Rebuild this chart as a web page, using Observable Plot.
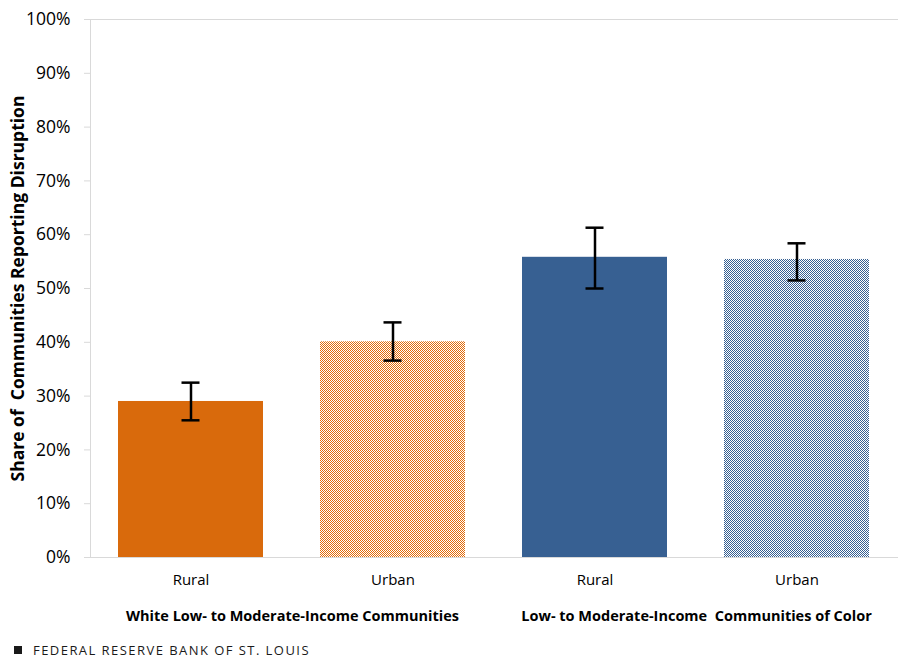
<!DOCTYPE html>
<html>
<head>
<meta charset="utf-8">
<script src="https://cdn.jsdelivr.net/npm/d3@7"></script>
<script src="https://cdn.jsdelivr.net/npm/@observablehq/plot@0.6"></script>
<style>
  html, body { margin: 0; padding: 0; background: #fff; }
  body { width: 909px; height: 660px; overflow: hidden; font-family: "Open Sans", sans-serif; }
  #chart svg { display: block; }
  g[aria-label="y-axis label"] text { font-weight: bold; font-size: 17.5px; }
  #footer { position: relative; height: 27px; margin-top: 3px; display: flex; align-items: center; padding-left: 14px; font-size: 13px; letter-spacing: 1.45px; color: #1a1a1a; font-family: "Open Sans", sans-serif; }
  #footer .sq { width: 8px; height: 8px; background: #1a1a1a; margin-right: 11px; }
</style>
</head>
<body>
<svg width="0" height="0" style="position:absolute">
  <defs>
    <pattern id="chkO" width="2" height="2" patternUnits="userSpaceOnUse">
      <rect width="2" height="2" fill="#ffffff"/>
      <rect x="0" y="0" width="1" height="1" fill="#E46C0A"/>
      <rect x="1" y="1" width="1" height="1" fill="#E46C0A"/>
    </pattern>
    <pattern id="chkB" width="2" height="2" patternUnits="userSpaceOnUse">
      <rect width="2" height="2" fill="#ffffff"/>
      <rect x="0" y="0" width="1" height="1" fill="#376092"/>
      <rect x="1" y="1" width="1" height="1" fill="#376092"/>
    </pattern>
  </defs>
</svg>
<div id="chart"></div>
<div id="footer"><div class="sq"></div><span>FEDERAL RESERVE BANK OF ST. LOUIS</span></div>
<script>
const groups = ["White Low- to Moderate-Income Communities", "Low- to Moderate-Income\u00a0 Communities of Color"];
const barGroups = [groups[0], groups[0], groups[1], groups[1]];
const areas = ["Rural", "Urban", "Rural", "Urban"];
const values = [0.290, 0.401, 0.558, 0.554];
const lower = [0.255, 0.366, 0.500, 0.515];
const upper = [0.325, 0.437, 0.613, 0.584];
const yTicks = [0, 0.1, 0.2, 0.3, 0.4, 0.5, 0.6, 0.7, 0.8, 0.9, 1.0];
const yTitle = "Share of\u00a0 Communities Reporting Disruption";

const data = values.map((v, i) => ({
  group: barGroups[i], area: areas[i], value: v, lo: lower[i], hi: upper[i],
  key: barGroups[i] + "|" + areas[i]
}));

const keys = data.map(d => d.key);
const fillRange = ["#D96A0C", "url(#chkO)", "#376092", "url(#chkB)"];

const grid = "#d9d9d9";

const chart = Plot.plot({
  width: 909,
  height: 633,
  marginTop: 19,
  marginBottom: 76,
  marginLeft: 90,
  marginRight: 11,
  style: { fontFamily: "Open Sans, sans-serif", color: "#000", background: "#fff" },
  fx: { domain: groups, padding: 0, label: null, axis: null },
  x: { domain: ["Rural", "Urban"], paddingInner: 0.282, paddingOuter: 0.141, label: null, axis: null },
  y: { domain: [0, 1], label: null, axis: null },
  color: { type: "ordinal", domain: keys, range: fillRange },
  marks: [
    Plot.frame({ anchor: "left", stroke: grid, facetAnchor: "left" }),
    Plot.ruleY([0, 1], { stroke: grid }),
    Plot.barY(data, { fx: "group", x: "area", y: "value", fill: "key" }),
    Plot.ruleX(data, { fx: "group", x: "area", y1: "lo", y2: "hi", stroke: "black", strokeWidth: 2.5 }),
    Plot.tickY(data, { fx: "group", x: "area", y: "lo", stroke: "black", strokeWidth: 2.5, inset: 63.5 }),
    Plot.tickY(data, { fx: "group", x: "area", y: "hi", stroke: "black", strokeWidth: 2.5, inset: 63.5 }),
    Plot.axisY({
      ticks: yTicks, tickFormat: d3.format(".0%"), tickSize: 6, tickPadding: 14,
      fontSize: 17.5, stroke: grid, fill: "#000",
      label: yTitle, labelAnchor: "center", labelOffset: 79, labelArrow: "none"
    }),
    Plot.axisX({ tickSize: 0, tickPadding: 17, fontSize: 15, label: null, fill: "#000" }),
    Plot.axisFx({ anchor: "bottom", tickSize: 0, tickPadding: 53, fontSize: 14.5, fontWeight: "bold", label: null, fill: "#000" })
  ]
});

document.getElementById("chart").appendChild(chart);
</script>
</body>
</html>
